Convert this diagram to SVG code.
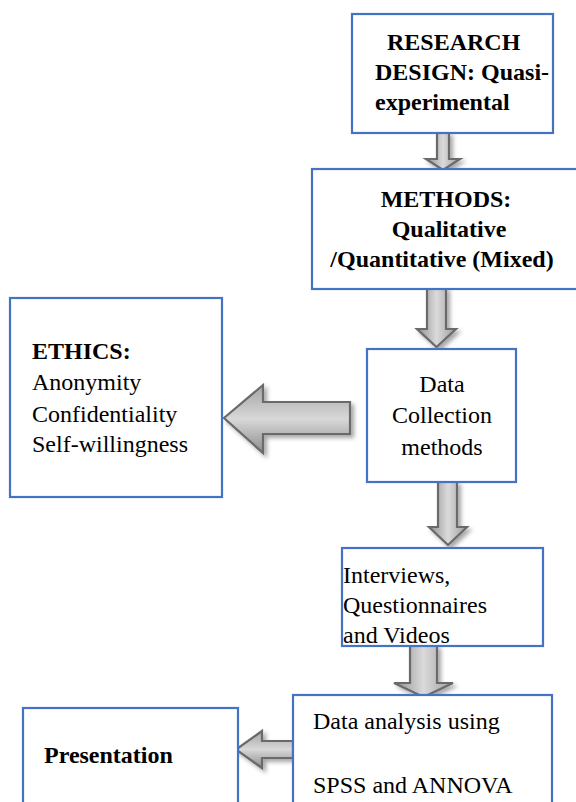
<svg xmlns="http://www.w3.org/2000/svg" width="576" height="802" viewBox="0 0 576 802">
  <defs>
    <linearGradient id="gDown" x1="0" y1="0" x2="1" y2="0">
      <stop offset="0" stop-color="#8e8e8e"/>
      <stop offset="0.5" stop-color="#dadada"/>
      <stop offset="1" stop-color="#9c9c9c"/>
    </linearGradient>
    <linearGradient id="gLeft" x1="0" y1="0" x2="0" y2="1">
      <stop offset="0" stop-color="#a4a4a4"/>
      <stop offset="0.5" stop-color="#d8d8d8"/>
      <stop offset="1" stop-color="#8c8c8c"/>
    </linearGradient>
    <filter id="sh" x="-30%" y="-30%" width="160%" height="160%">
      <feDropShadow dx="3" dy="3" stdDeviation="2" flood-color="#000" flood-opacity="0.35"/>
    </filter>
  </defs>
  <style>
    .box { fill: #ffffff; stroke: #4472c4; stroke-width: 2.2; }
    .t { font-family: 'Liberation Serif', 'Times New Roman', 'DejaVu Serif', serif; font-size: 24px; fill: #000; }
    .b { font-weight: bold; }
    .ad { fill: url(#gDown); stroke: #6a6a6a; stroke-width: 2.2; stroke-linejoin: miter; filter: url(#sh); }
    .al { fill: url(#gLeft); stroke: #6a6a6a; stroke-width: 2.2; stroke-linejoin: miter; filter: url(#sh); }
  </style>
  <rect width="576" height="802" fill="#ffffff"/>

  <g id="connectors">
    <path class="ad" d="M437,133 L449,133 L449,159 L460,159 L443,170 L426,159 L437,159 Z"/>
    <path class="ad" d="M427,288 L446,288 L446,329 L456,329 L436.5,347 L417,329 L427,329 Z"/>
    <path class="ad" d="M438,482 L457,482 L457,527 L467,527 L448,545 L429,527 L438,527 Z"/>
    <path class="ad" d="M410,646 L437,646 L437,683 L453,683 L423.5,697 L394,683 L410,683 Z"/>
    <path class="al" d="M350,402 L350,434 L263,434 L263,453 L224,418 L263,385 L263,402 Z"/>
    <path class="al" d="M293,741 L293,758 L262,758 L262,768 L236,749.5 L262,731 L262,741 Z"/>
  </g>

  <g id="research-design" font-family="Liberation Serif, serif">
    <rect class="box" x="352" y="14" width="201" height="119"/>
    <text class="t b" x="387" y="50">RESEARCH</text>
    <text class="t b" x="375" y="80">DESIGN: Quasi-</text>
    <text class="t b" x="375" y="110">experimental</text>
  </g>

  <g id="methods" font-family="Liberation Serif, serif">
    <rect class="box" x="312" y="169" width="280" height="120"/>
    <text class="t b" x="446" y="207" text-anchor="middle">METHODS:</text>
    <text class="t b" x="449" y="237" text-anchor="middle">Qualitative</text>
    <text class="t b" x="442" y="267" text-anchor="middle">/Quantitative (Mixed)</text>
  </g>

  <g id="data-collection" font-family="Liberation Serif, serif">
    <rect class="box" x="367" y="349" width="149" height="133"/>
    <text class="t" x="442" y="392" text-anchor="middle">Data</text>
    <text class="t" x="442" y="423" text-anchor="middle">Collection</text>
    <text class="t" x="442" y="455" text-anchor="middle">methods</text>
  </g>

  <g id="ethics" font-family="Liberation Serif, serif">
    <rect class="box" x="10" y="298" width="212" height="199"/>
    <text class="t b" x="32" y="359">ETHICS:</text>
    <text class="t" x="32" y="390">Anonymity</text>
    <text class="t" x="32" y="422">Confidentiality</text>
    <text class="t" x="32" y="452">Self-willingness</text>
  </g>

  <g id="instruments" font-family="Liberation Serif, serif">
    <rect class="box" x="342" y="548" width="201" height="98"/>
    <text class="t" x="343" y="583">Interviews,</text>
    <text class="t" x="343" y="613">Questionnaires</text>
    <text class="t" x="343" y="643">and Videos</text>
  </g>

  <g id="data-analysis" font-family="Liberation Serif, serif">
    <rect class="box" x="293" y="695" width="259" height="130"/>
    <text class="t" x="313" y="729">Data analysis using</text>
    <text class="t" x="313" y="793">SPSS and ANNOVA</text>
  </g>

  <g id="presentation" font-family="Liberation Serif, serif">
    <rect class="box" x="23" y="708" width="215" height="120"/>
    <text class="t b" x="44" y="763">Presentation</text>
  </g>
</svg>
